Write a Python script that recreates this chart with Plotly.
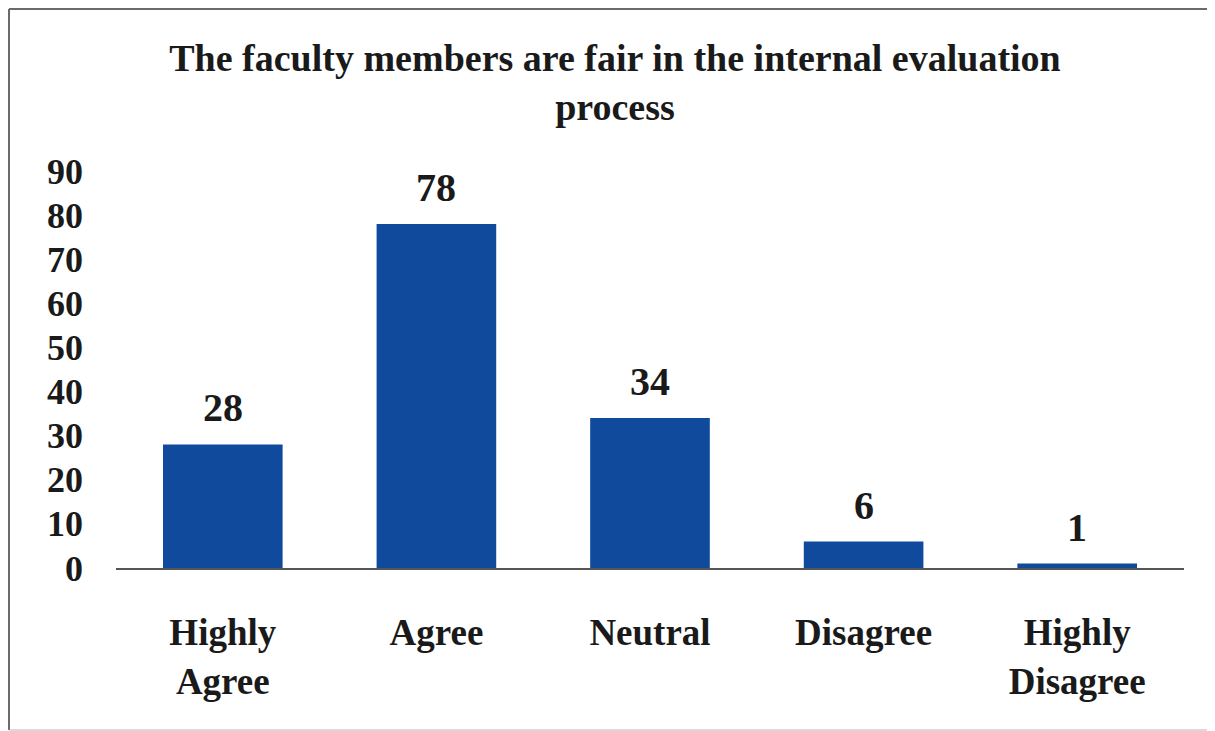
import plotly.graph_objects as go

categories = ["Highly<br>Agree", "Agree", "Neutral", "Disagree", "Highly<br>Disagree"]
values = [28, 78, 34, 6, 1]
y_ticks = [0, 10, 20, 30, 40, 50, 60, 70, 80, 90]

FONT = "Liberation Serif, Times New Roman, serif"
BAR_COLOR = "#0f4a9d"
TEXT_COLOR = "#1a1a1a"

fig = go.Figure()
fig.add_trace(go.Bar(
    x=categories, y=values,
    marker=dict(color=BAR_COLOR, line=dict(width=0)),
    width=0.56,
    hoverinfo="skip",
))

for c, v in zip(categories, values):
    fig.add_annotation(x=c, y=v, text="<b>%d</b>" % v, showarrow=False,
                       yanchor="bottom", yshift=12,
                       font=dict(family=FONT, size=40, color=TEXT_COLOR))

# page body has an 8px margin, so the figure is sized to fit the window
W, H = 1207, 723
L, R, T, B = 108, 31, 163, 163
pw, ph = W - L - R, H - T - B

def px2paper_x(px):
    return (px - L) / pw

def px2paper_y(py):
    return (H - B - py) / ph

frame_lines = [
    ((1, 1), (W, 1), "#6a6a6a", 2),          # top
    ((1, 1), (1, H - 1), "#6a6a6a", 2),      # left
    ((1, H - 1), (W, H - 1), "#b5b5b5", 1),  # bottom (faint)
]
for (ax, ay), (bx, by), col, lw in frame_lines:
    fig.add_shape(type="line", xref="paper", yref="paper",
                  x0=px2paper_x(ax), y0=px2paper_y(ay),
                  x1=px2paper_x(bx), y1=px2paper_y(by),
                  line=dict(color=col, width=lw), layer="below")

fig.update_layout(
    width=W, height=H,
    margin=dict(l=L, r=R, t=T, b=B),
    paper_bgcolor="white", plot_bgcolor="white",
    showlegend=False,
    title=dict(
        text="<b>The faculty members are fair in the internal evaluation<br>process</b>",
        x=607 / W, xanchor="center", y=1 - 63 / H, yanchor="middle",
        font=dict(family=FONT, size=38, color=TEXT_COLOR),
    ),
    font=dict(family=FONT, color=TEXT_COLOR),
    xaxis=dict(
        showline=True, linecolor="#555555", linewidth=2,
        tickfont=dict(family=FONT, size=37, color=TEXT_COLOR),
        ticks="", ticklabelstandoff=31,
        showgrid=False, zeroline=False,
        tickvals=categories,
        ticktext=["<b>%s</b>" % c for c in categories],
    ),
    yaxis=dict(
        range=[0, 90], tickvals=y_ticks,
        ticktext=["<b>%d</b>" % t for t in y_ticks],
        tickfont=dict(family=FONT, size=36, color=TEXT_COLOR),
        showgrid=False, zeroline=False, showline=False,
        ticks="", ticklabelstandoff=32,
    ),
)

fig.write_html("out.html")
